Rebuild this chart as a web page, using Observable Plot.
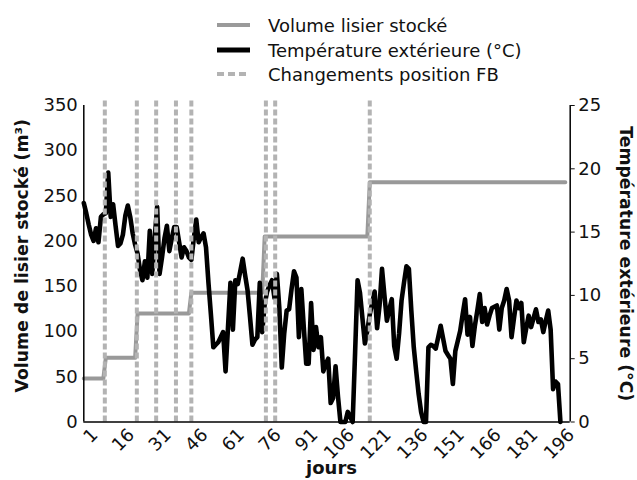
<!DOCTYPE html>
<html><head><meta charset="utf-8">
<script src="https://cdn.jsdelivr.net/npm/d3@7"></script>
<script src="https://cdn.jsdelivr.net/npm/@observablehq/plot@0.6"></script>
<style>
body{margin:0;background:#fff;font-family:"DejaVu Sans",sans-serif;}
#legend{position:relative;height:85px;width:637px;}
.item{position:absolute;left:217px;height:24px;display:flex;align-items:center;font-size:18px;color:#111;white-space:nowrap;}
.item svg{margin-right:18px;flex:none}
#chart svg{display:block;overflow:visible}
</style></head><body>
<div id="legend"></div>
<div id="chart"></div>
<script>
// Température extérieure (°C), jours 1..196
const tempC = [
 17.3,16.5,15.6,14.8,14.3,15.3,14.2,16.2,16.4,16.5,
 19.7,16.2,17.2,15.5,13.9,14.1,14.8,16.3,17.1,16.2,
 14.9,14.0,13.3,12.0,11.2,12.7,11.4,15.1,11.7,14.5,
 17.0,11.7,13.0,14.5,15.5,13.5,14.5,15.4,15.4,14.2,
 13.0,13.8,13.5,13.0,12.8,14.5,16.0,14.2,14.6,14.9,
 13.8,11.0,8.5,5.9,6.1,6.3,6.7,7.1,4.0,7.5,
 11.0,7.3,11.2,10.9,11.9,12.9,11.6,10.4,8.3,6.1,
 6.5,6.7,11.0,7.1,9.3,10.3,10.8,11.2,9.8,11.7,
 9.0,4.3,7.0,8.8,8.9,10.5,11.9,11.4,6.7,10.5,
 7.5,4.6,4.6,9.4,5.7,7.5,5.9,6.7,4.0,4.6,
 5.0,1.5,1.9,4.4,2.0,0,0,0,0.8,0.4,
 0,5.5,11.2,10.2,8.2,6.2,7.2,8.5,9.4,10.3,
 7.4,9.2,12.1,10.0,8.0,8.9,9.7,6.0,5.0,7.0,
 9.6,11.0,12.3,12.1,8.8,5.9,4.0,2.2,0.8,0,
 0,5.9,6.1,6.0,5.8,6.7,7.6,6.6,5.6,5.3,
 5.0,3.0,5.6,6.4,7.2,8.5,9.7,6.9,8.3,6.0,
 7.6,8.8,10.1,7.9,9.0,7.7,8.4,9.0,9.1,9.2,
 7.3,9.0,9.6,10.5,9.6,6.7,8.2,9.6,9.0,9.4,
 6.3,7.4,8.4,7.5,8.2,8.9,7.9,8.1,7.1,8.0,
 8.8,7.3,2.6,3.2,3.0,0
];
// Volume lisier stocké (m³): paliers
const volStartDays = [1, 10, 23, 45, 75, 118];
const volLevels    = [48, 71, 120, 143, 205, 265];
const volEndDay = 198;
// Changements position FB (jours)
const fbDays = [9.6, 22.7, 30.6, 38.7, 45, 75.5, 79.3, 118];
// Ticks
const xTicks = [1,16,31,46,61,76,91,106,121,136,151,166,181,196];
const leftTicks = [0,50,100,150,200,250,300,350];
const rightTicks = [0,5,10,15,20,25];
const xDomain = [1, 200];
const leftMax = 350, rightMax = 25;

const k = leftMax / rightMax;
const temp = tempC.map((t, i) => ({day: i + 1, t}));
const vol = [];
volStartDays.forEach((s, i) => {
  const e = i < volStartDays.length - 1 ? volStartDays[i + 1] - 1 : volEndDay;
  vol.push({day: s, v: volLevels[i]}, {day: e, v: volLevels[i]});
});

// Legend
const legend = document.getElementById("legend");
const items = [
  {label: "Volume lisier stocké", stroke: "#9a9a9a", w: 4, dash: null},
  {label: "Température extérieure (°C)", stroke: "#000", w: 5, dash: null},
  {label: "Changements position FB", stroke: "#b3b3b3", w: 4, dash: "7,4"}
];
const tops = [13, 38, 62];
items.forEach((it, i) => {
  const div = document.createElement("div");
  div.className = "item";
  div.style.top = tops[i] + "px";
  div.innerHTML = `<svg width="33" height="10"><line x1="0" x2="33" y1="5" y2="5" stroke="${it.stroke}" stroke-width="${it.w}" ${it.dash ? `stroke-dasharray="${it.dash}"` : ""}/></svg><span>${it.label}</span>`;
  legend.appendChild(div);
});

const chart = Plot.plot({
  width: 637, height: 395,
  marginLeft: 83.3, marginRight: 67.3, marginTop: 20, marginBottom: 58.5,
  x: {domain: xDomain, axis: null},
  y: {domain: [0, leftMax], axis: null},
  style: {fontFamily: "DejaVu Sans", fontSize: "18px", color: "#111", background: "#fff", overflow: "visible"},
  marks: [
    Plot.line(vol, {x: "day", y: "v", stroke: "#999", strokeWidth: 4}),
    Plot.line(temp, {x: "day", y: d => d.t * k, stroke: "#000", strokeWidth: 4.6, strokeLinejoin: "round"}),
    Plot.ruleX(fbDays, {x: d => d, y1: 0, y2: 355, stroke: "#b3b3b3", strokeWidth: 4, strokeDasharray: "6,3"}),
    Plot.ruleY([0], {stroke: "#000", strokeWidth: 1.5}),
    Plot.ruleX([xDomain[0]], {y1: 0, y2: leftMax, stroke: "#000", strokeWidth: 1.5}),
    Plot.ruleX([xDomain[1]], {y1: 0, y2: leftMax, stroke: "#000", strokeWidth: 1.5}),
    Plot.axisY({anchor: "left", ticks: leftTicks, tickSize: 0, tickPadding: 6, fontSize: 18, label: null}),
    Plot.axisY({anchor: "right", ticks: rightTicks.map(t => t * k), tickFormat: d => String(Math.round(d / k)), tickSize: 4, tickPadding: 4, fontSize: 18, label: null}),
    Plot.text(xTicks, {x: d => d, y: 0, text: d => String(d), rotate: -45, textAnchor: "end", lineAnchor: "bottom", dx: 15, dy: 14, fontSize: 18}),
    Plot.text(["jours"], {text: d => d, frameAnchor: "bottom", textAnchor: "middle", dx: 4.5, dy: 52, lineAnchor: "bottom", fontWeight: "bold", fontSize: 18}),
    Plot.text(["Volume de lisier stocké (m³)"], {text: d => d, frameAnchor: "left", textAnchor: "middle", rotate: -90, dx: -61, dy: -8, fontWeight: "bold", fontSize: 17.3}),
    Plot.text(["Température extérieure (°C)"], {text: d => d, frameAnchor: "right", textAnchor: "middle", rotate: 90, dx: 55, fontWeight: "bold", fontSize: 17.3})
  ]
});
document.getElementById("chart").appendChild(chart);
</script>
</body></html>
